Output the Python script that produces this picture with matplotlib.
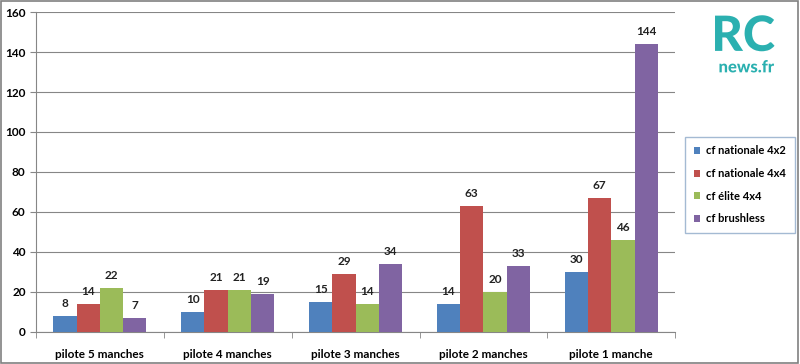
import numpy as np
import matplotlib.pyplot as plt
import matplotlib.patheffects as pe
from matplotlib.patches import Rectangle

categories = ['pilote 5 manches', 'pilote 4 manches', 'pilote 3 manches',
              'pilote 2 manches', 'pilote 1 manche']
series = ['cf nationale 4x2', 'cf nationale 4x4', 'cf élite 4x4', 'cf brushless']
nat_4x2 = [8, 10, 15, 14, 30]
nat_4x4 = [14, 21, 29, 63, 67]
elite_4x4 = [22, 21, 14, 20, 46]
brushless = [7, 19, 34, 33, 144]
colors = ['#4F81BD', '#C0504D', '#9BBB59', '#8064A2']

plt.rcParams['font.family'] = ['Lato', 'DejaVu Sans']

fig = plt.figure(figsize=(8, 3.64), dpi=100)
ax = fig.add_axes([0.045, 0.088, 0.799, 0.879])

x = np.arange(len(categories))
w = 0.182
values = [nat_4x2, nat_4x4, elite_4x4, brushless]
for i, (vals, c, name) in enumerate(zip(values, colors, series)):
    bars = ax.bar(x + (i - 1.5) * w, vals, w, color=c, label=name, zorder=3)
    ax.bar_label(bars, padding=5, fontsize=8.5, fontweight='bold', color='#222222')

ax.set_xlim(-0.5, len(categories) - 0.5)
ax.set_ylim(0, 160)
ax.set_yticks(range(0, 161, 20))
ax.set_xticks(x)
ax.set_xticklabels(categories, fontsize=8.5, fontweight='bold')
ax.set_xticks(np.arange(-0.5, len(categories)), minor=True)
ax.tick_params(axis='x', which='major', length=0, pad=12)
ax.tick_params(axis='x', which='minor', length=4, color='#868686')
ax.tick_params(axis='y', length=4, color='#868686', labelsize=8.5)
for t in ax.get_yticklabels():
    t.set_fontweight('bold')
ax.grid(axis='y', color='#868686', linewidth=0.8, zorder=0)
for s in ['top', 'right']:
    ax.spines[s].set_visible(False)
for s in ['left', 'bottom']:
    ax.spines[s].set_color('#868686')

leg = fig.legend(loc='upper left', bbox_to_anchor=(0.849, 0.64),
                 prop={'weight': 'bold', 'size': 8}, handlelength=0.6, handleheight=0.6,
                 labelspacing=1.05, handletextpad=0.5, borderpad=0.8,
                 fancybox=False, edgecolor='#8EA9C8')
leg.get_frame().set_linewidth(1.0)

# logo
fig.text(0.929, 0.9, 'RC', fontsize=35, fontweight='black', color='#2BB0B0',
         ha='center', va='center',
         path_effects=[pe.withStroke(linewidth=4, foreground='white')])
fig.text(0.933, 0.815, 'news.fr', fontsize=12, fontweight='black', color='#2BB0B0',
         ha='center', va='center',
         path_effects=[pe.withStroke(linewidth=3, foreground='white')])

fig.patches.append(Rectangle((0.001, 0.003), 0.997, 0.994, transform=fig.transFigure,
                             fill=False, edgecolor='#808080', linewidth=1.2))

fig.savefig('out.png', dpi=100)
